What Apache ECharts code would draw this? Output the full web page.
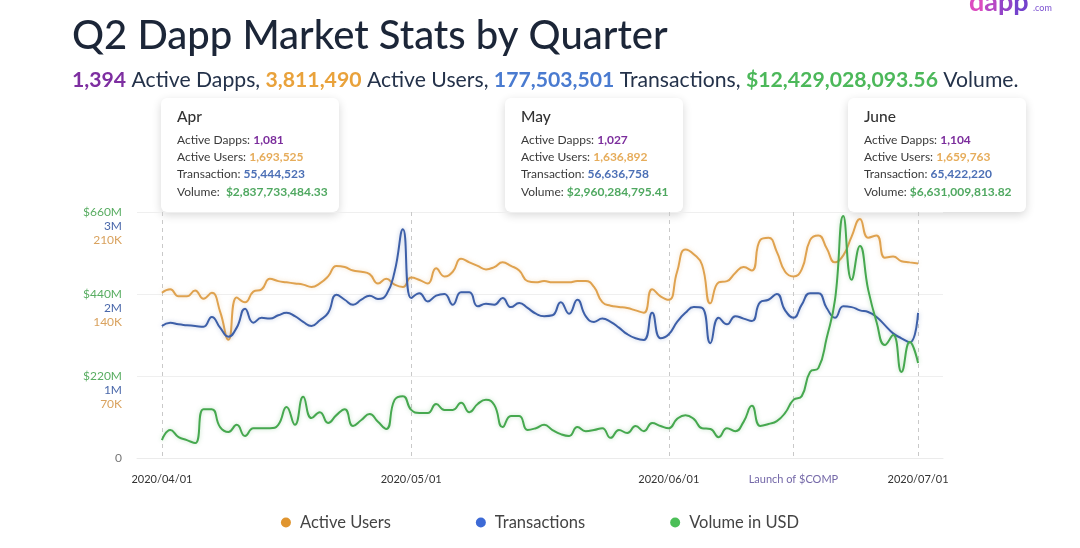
<!DOCTYPE html>
<html>
<head>
<meta charset="utf-8">
<script src="https://cdn.jsdelivr.net/npm/echarts@6/dist/echarts.min.js"></script>
<style>
html,body{margin:0;padding:0;background:#fff;}
#chart{width:1080px;height:548px;}
</style>
</head>
<body>
<div id="chart"></div>
<script>
// ---------- data ----------
// daily values, 2020-04-01 .. 2020-07-01
var activeUsersK = [141,144,138,138,143,136,141,125,101,137,
  133,142,144,153,151,150,149,148,146,149,
  155,164,163,160,159,157,149,153,148,146,
  154,152,149,162,155,159,170,167,164,161,
  163,167,164,160,151,150,151,150,150,150,
  151,151,146,133,130,129,128,126,124,144,
  138,135,159,178,174,165,132,150,151,158,
  163,160,186,188,176,159,155,161,186,190,
  179,167,173,189,204,188,190,171,172,168,
  167,166];
var transactionsM = [1.61,1.65,1.63,1.62,1.61,1.60,1.72,1.59,1.48,1.59,
  1.82,1.65,1.71,1.70,1.74,1.77,1.73,1.66,1.61,1.68,
  1.77,1.99,1.93,1.87,1.93,1.98,1.94,1.99,2.27,2.79,
  1.95,2.01,1.91,1.98,2.00,1.87,2.02,2.02,1.85,1.88,
  1.87,1.95,1.84,1.89,1.83,1.76,1.73,1.74,1.90,1.76,
  1.93,1.73,1.66,1.70,1.66,1.59,1.51,1.46,1.44,1.77,
  1.46,1.51,1.66,1.77,1.84,1.83,1.40,1.71,1.63,1.73,
  1.70,1.67,1.90,1.93,2.00,1.80,1.71,1.87,2.01,2.01,
  1.83,1.71,1.85,1.84,1.80,1.78,1.72,1.62,1.52,1.46,
  1.41,1.77];
var volumeUSDM = [48,75,56,48,40,131,131,83,70,89,
  59,80,80,80,89,137,89,164,107,123,
  94,115,131,86,102,118,97,78,156,166,
  129,121,121,145,129,129,148,123,145,156,
  142,83,113,113,75,80,89,75,64,59,
  83,72,75,80,54,75,67,86,72,94,
  86,80,105,115,105,80,78,56,80,72,
  97,140,86,91,99,121,156,166,231,241,
  322,424,649,478,569,451,365,303,330,231,
  311,255];

var seriesNames = ['Active Users','Transactions','Volume in USD'];
var volTickLabels = ['0','$220M','$440M','$660M'];
var txTickLabels = ['','1M','2M','3M'];
var userTickLabels = ['','70K','140K','210K'];
var markedDates = ['2020-04-01','2020-05-01','2020-06-01','2020-06-16','2020-07-01'];
var eventDate = '2020-06-16';
var eventLabel = 'Launch of $COMP';

var monthNames = ['Apr','May','June'];
var monthDapps = ['1,081','1,027','1,104'];
var monthUsers = ['1,693,525','1,636,892','1,659,763'];
var monthTx = ['55,444,523','56,636,758','65,422,220'];
var monthVol = ['$2,837,733,484.33','$2,960,284,795.41','$6,631,009,813.82'];

// categories: 3 padding days on each side of 2020-04-01..2020-07-01
var categories = [];
(function(){
  var start = Date.UTC(2020,2,29);
  for (var i = 0; i < 98; i++) {
    var d = new Date(start + i*86400000);
    var m = d.getUTCMonth()+1, dd = d.getUTCDate();
    categories.push(d.getUTCFullYear()+'-'+(m<10?'0':'')+m+'-'+(dd<10?'0':'')+dd);
  }
})();
function pad(arr){ return [null,null,null].concat(arr).concat([null,null,null]); }

// ---------- chart ----------
var FONT = 'Lato, "Noto Sans", sans-serif';
var chart = echarts.init(document.getElementById('chart'));
var isMarked = function(idx, val){ return markedDates.indexOf(val) >= 0; };

var boxX = [161,505,848];
var graphics = [];
graphics.push({type:'text', x:72, y:36, style:{text:'Q2 Dapp Market Stats by Quarter', font:'500 40px '+FONT, fill:'#1c2638', verticalAlign:'middle'}});
graphics.push({type:'text', x:72, y:80, style:{
  text:'{p|1,394} Active Dapps, {o|3,811,490} Active Users, {b|177,503,501} Transactions, {g|$12,429,028,093.56} Volume.',
  font:'21.2px '+FONT, fill:'#24324a', verticalAlign:'middle',
  rich:{
    p:{fill:'#7e2fa1', fontWeight:'bold', fontSize:21.2, fontFamily:FONT},
    o:{fill:'#e9a23b', fontWeight:'bold', fontSize:21.2, fontFamily:FONT},
    b:{fill:'#4a7bd0', fontWeight:'bold', fontSize:21.2, fontFamily:FONT},
    g:{fill:'#4cb85a', fontWeight:'bold', fontSize:21.2, fontFamily:FONT}
  }}});
var logoRich = {
  a:{fill:'#dc4cc0', fontSize:27, fontWeight:'bold', fontFamily:FONT},
  b:{fill:'#b648c4', fontSize:27, fontWeight:'bold', fontFamily:FONT},
  c:{fill:'#9444c8', fontSize:27, fontWeight:'bold', fontFamily:FONT},
  d:{fill:'#7442cc', fontSize:27, fontWeight:'bold', fontFamily:FONT}
};
graphics.push({type:'text', x:969, y:16, style:{text:'{a|d}{b|a}{c|p}{d|p}', rich:logoRich, verticalAlign:'bottom'}});
graphics.push({type:'text', x:1033, y:8, style:{text:'.com', font:'9px '+FONT, fill:'#7a4fd0', verticalAlign:'middle'}});

var boxRich = {
  l:{fill:'#3a3a3a', fontSize:12, fontFamily:FONT},
  p:{fill:'#7b2d9c', fontSize:12, fontWeight:'bold', fontFamily:FONT},
  o:{fill:'#e6ac5a', fontSize:12, fontWeight:'bold', fontFamily:FONT},
  b:{fill:'#4b6fb5', fontSize:12, fontWeight:'bold', fontFamily:FONT},
  g:{fill:'#4fa860', fontSize:12, fontWeight:'bold', fontFamily:FONT}
};
for (var k = 0; k < 3; k++) {
  var volSep = k === 0 ? '  ' : ' ';
  graphics.push({type:'group', x:boxX[k], y:98, z:100, children:[
    {type:'rect', shape:{x:0,y:0,width:178,height:114,r:6}, style:{fill:'#fff', shadowBlur:10, shadowColor:'rgba(0,0,0,0.16)', shadowOffsetY:3}},
    {type:'text', x:16, y:19, style:{text:monthNames[k], font:'500 15.5px '+FONT, fill:'#333', verticalAlign:'middle'}},
    {type:'text', x:16, y:42, style:{text:'{l|Active Dapps: }{p|'+monthDapps[k]+'}', rich:boxRich, verticalAlign:'middle'}},
    {type:'text', x:16, y:59, style:{text:'{l|Active Users: }{o|'+monthUsers[k]+'}', rich:boxRich, verticalAlign:'middle'}},
    {type:'text', x:16, y:76, style:{text:'{l|Transaction: }{b|'+monthTx[k]+'}', rich:boxRich, verticalAlign:'middle'}},
    {type:'text', x:16, y:94, style:{text:'{l|Volume:'+volSep+'}{g|'+monthVol[k]+'}', rich:boxRich, verticalAlign:'middle'}}
  ]});
}

var lineCommon = {type:'line', smooth:true, showSymbol:false, symbol:'none'};
var option = {
  animation:false,
  textStyle:{fontFamily:FONT},
  grid:{left:137, right:137, top:212, bottom:90},
  legend:{
    data:seriesNames, left:'center', top:509, icon:'circle', itemWidth:10, itemHeight:10, itemGap:85,
    textStyle:{fontSize:16.5, color:'#444', fontFamily:FONT, padding:[0,0,0,4]}
  },
  xAxis:{
    type:'category', data:categories, boundaryGap:false,
    axisLine:{show:true, lineStyle:{color:'#ebebeb'}},
    axisTick:{show:false},
    axisLabel:{
      interval:isMarked, margin:16, fontSize:11, color:'#333', fontFamily:FONT,
      formatter:function(v){ return v === eventDate ? '{c|'+eventLabel+'}' : v.replace(/-/g,'/'); },
      rich:{c:{color:'#7468a8', fontSize:11, fontFamily:FONT}}
    },
    splitLine:{show:true, interval:isMarked, lineStyle:{type:[4,4], color:'#c9c9c9', width:1}}
  },
  yAxis:[
    {type:'value', min:0, max:660, interval:220, position:'left',
      axisLine:{show:false}, axisTick:{show:false},
      splitLine:{lineStyle:{color:'#efefef'}},
      axisLabel:{margin:15, lineHeight:14, fontSize:12, fontFamily:FONT, align:'right', verticalAlign:'middle',
        formatter:function(v, i){
          var idx = Math.round(v/220);
          if (idx === 0) return '{z|0}';
          return '{s| }\n{s| }\n{g|'+volTickLabels[idx]+'}\n{b|'+txTickLabels[idx]+'}\n{o|'+userTickLabels[idx]+'}';
        },
        rich:{
          s:{fontSize:12, lineHeight:14, align:'right'},
          z:{fontSize:12, lineHeight:14, color:'#777', align:'right'},
          g:{fontSize:12, lineHeight:14, color:'#59ad62', align:'right'},
          b:{fontSize:12, lineHeight:14, color:'#4a68aa', align:'right'},
          o:{fontSize:12, lineHeight:14, color:'#d9a25e', align:'right'}
        }}},
    {type:'value', min:0, max:3, interval:1, show:false, splitLine:{show:false}},
    {type:'value', min:0, max:210, interval:70, show:false, splitLine:{show:false}}
  ],
  series:[
    Object.assign({}, lineCommon, {name:seriesNames[0], yAxisIndex:2, data:pad(activeUsersK),
      itemStyle:{color:'#e0952f'},
      lineStyle:{color:'#dfa24f', width:2, shadowBlur:4, shadowColor:'rgba(223,162,79,0.35)'}}),
    Object.assign({}, lineCommon, {name:seriesNames[1], yAxisIndex:1, data:pad(transactionsM),
      itemStyle:{color:'#3d6ad6'},
      lineStyle:{color:'#3d5fa8', width:2, shadowBlur:4, shadowColor:'rgba(61,95,168,0.35)'}}),
    Object.assign({}, lineCommon, {name:seriesNames[2], yAxisIndex:0, data:pad(volumeUSDM),
      itemStyle:{color:'#4cbf58'},
      lineStyle:{color:'#46a84f', width:2, shadowBlur:4, shadowColor:'rgba(70,168,79,0.35)'}})
  ],
  graphic:graphics
};
chart.setOption(option);
</script>
</body>
</html>
